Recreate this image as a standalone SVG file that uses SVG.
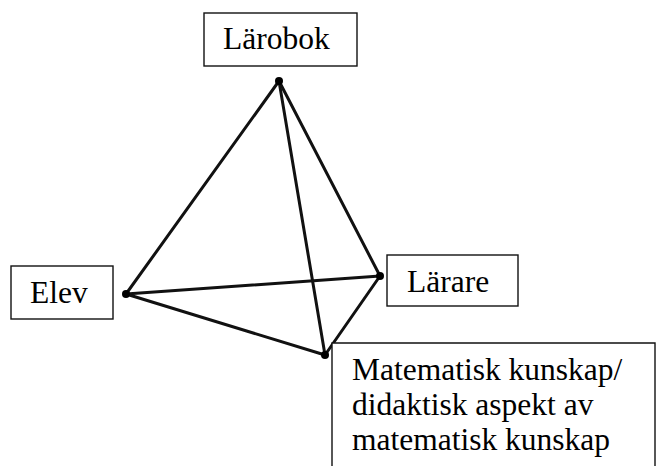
<svg xmlns="http://www.w3.org/2000/svg" width="657" height="466" viewBox="0 0 657 466">
<style>
.edge{stroke:#111;stroke-width:3;stroke-linecap:round;fill:none}
.dot{fill:#000}
.box{fill:#fff;stroke:#111;stroke-width:1.4}
.lbl{font-family:"Liberation Serif","Times New Roman",serif;font-size:31.5px;fill:#000}
</style>
<rect width="657" height="466" fill="#fff"/>
<g id="connectors">
<line class="edge" x1="279" y1="81" x2="126" y2="294"/>
<line class="edge" x1="279" y1="81" x2="380" y2="276"/>
<line class="edge" x1="279" y1="81" x2="325" y2="355"/>
<line class="edge" x1="126" y1="294" x2="380" y2="276"/>
<line class="edge" x1="126" y1="294" x2="325" y2="355"/>
<line class="edge" x1="380" y1="276" x2="325" y2="355"/>
<circle class="dot" cx="279" cy="81" r="4"/>
<circle class="dot" cx="126" cy="294" r="4"/>
<circle class="dot" cx="380" cy="276" r="4"/>
<circle class="dot" cx="325" cy="355" r="4"/>
</g>
<g id="larobok">
<rect class="box" x="204" y="13" width="153" height="53"/>
<text class="lbl" x="223" y="49">Lärobok</text>
</g>
<g id="elev">
<rect class="box" x="11" y="266" width="102" height="53"/>
<text class="lbl" x="30" y="303">Elev</text>
</g>
<g id="larare">
<rect class="box" x="387" y="255" width="131" height="51"/>
<text class="lbl" x="407" y="292">Lärare</text>
</g>
<g id="matematisk">
<path class="box" d="M332 470 V343 H655 V470"/>
<text class="lbl" x="352" y="380">Matematisk kunskap/</text>
<text class="lbl" x="352" y="415">didaktisk aspekt av</text>
<text class="lbl" x="352" y="450">matematisk kunskap</text>
</g>
</svg>
